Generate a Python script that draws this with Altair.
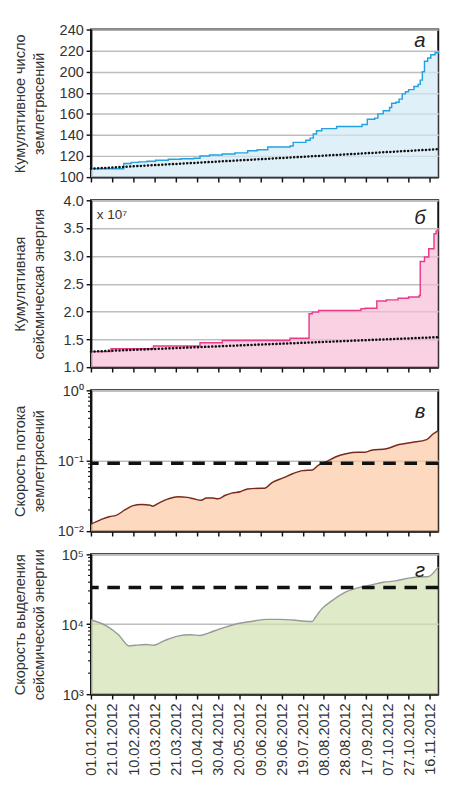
import altair as alt
import pandas as pd

FONT = "Liberation Sans"

# ---------------- data ----------------
tick_labels = ["01.01.2012", "21.01.2012", "10.02.2012", "01.03.2012", "21.03.2012",
               "10.04.2012", "30.04.2012", "20.05.2012", "09.06.2012", "29.06.2012",
               "19.07.2012", "08.08.2012", "28.08.2012", "17.09.2012", "07.10.2012",
               "27.10.2012", "16.11.2012"]
tick_days = [0, 20, 40, 60, 80, 100, 120, 140, 160, 180, 200, 220, 240, 260, 280, 300, 320]
x_domain = [0, 328]  # days since 01.01.2012

# (а) cumulative number of earthquakes
a_days = [0, 31, 38, 45, 53, 61, 73, 85, 97, 103, 112, 124, 136, 148, 157, 167, 188, 191,
          203, 207, 210, 213, 218, 232, 252, 256, 261, 268, 271, 276, 282, 284, 288, 291,
          294, 297, 300, 305, 309, 311, 313, 315, 318, 321, 325, 328]
a_vals = [108, 113, 114, 114.5, 115, 116, 117, 117.5, 118, 120, 121, 122, 123, 125, 126,
          128.5, 129.5, 133, 135, 137, 141, 144, 146, 148, 148, 150, 155, 156, 160, 163,
          166, 170, 171, 174, 179, 181, 183, 186, 188, 192, 200, 210, 213, 216, 218, 219]
a_trend_days = [0, 328]
a_trend_vals = [108, 126.5]
a_ticks = [100, 120, 140, 160, 180, 200, 220, 240]

# (б) cumulative seismic energy, x 10^7
b_days = [0, 19, 59, 103, 124, 188, 206, 209, 215, 250, 255, 259, 270, 279, 290, 300,
          310, 311, 315, 319, 324, 326, 328]
b_vals = [1.28, 1.33, 1.38, 1.44, 1.48, 1.52, 1.96, 1.99, 2.02, 2.02, 2.05, 2.06, 2.19,
          2.21, 2.24, 2.26, 2.29, 2.90, 2.98, 3.13, 3.40, 3.45, 3.48]
b_trend_days = [0, 328]
b_trend_vals = [1.28, 1.54]
b_ticks = [1.0, 1.5, 2.0, 2.5, 3.0, 3.5, 4.0]

# (в) earthquake flow rate
c_days = [0, 9, 18, 23, 32, 39, 48, 56, 58, 64, 73, 82, 91, 97, 104, 109, 115, 120, 127,
          133, 141, 148, 161, 164, 171, 182, 191, 200, 209, 215, 223, 232, 241, 252, 259,
          265, 279, 291, 303, 317, 323, 328]
c_vals = [0.0126, 0.0145, 0.0162, 0.0166, 0.0200, 0.0229, 0.0240, 0.0234, 0.0226, 0.0251,
          0.0288, 0.0309, 0.0302, 0.0288, 0.0275, 0.0295, 0.0295, 0.0288, 0.0324, 0.0347,
          0.0363, 0.0398, 0.0407, 0.0407, 0.0490, 0.0575, 0.0660, 0.0724, 0.0741, 0.0870,
          0.0977, 0.115, 0.126, 0.132, 0.132, 0.141, 0.148, 0.170, 0.182, 0.200, 0.240, 0.269]
c_threshold = 0.092
c_ticks = [0.01, 0.1, 1]
c_tick_labels = ["10⁻²", "10⁻¹", "10⁰"]
c_minor = [0.02, 0.03, 0.04, 0.05, 0.06, 0.07, 0.08, 0.09,
           0.2, 0.3, 0.4, 0.5, 0.6, 0.7, 0.8, 0.9]

# (г) seismic energy release rate
d_days = [0, 15, 26, 36, 42, 52, 59, 70, 82, 94, 103, 112, 121, 127, 139, 151, 167, 179,
          191, 206, 209, 212, 218, 227, 239, 252, 264, 276, 288, 300, 315, 318, 328]
d_vals = [11500, 9440, 7080, 4900, 5010, 5130, 5010, 5890, 6760, 7080, 6920, 7590, 8510,
          9120, 10230, 10960, 11750, 11750, 11480, 10960, 10960, 12590, 16600, 21380,
          28180, 33110, 36310, 39810, 41690, 45710, 47860, 47860, 66070]
d_threshold = 33600
d_ticks = [1000, 10000, 100000]
d_tick_labels = ["10³", "10⁴", "10⁵"]
d_minor = [2000, 3000, 4000, 5000, 6000, 7000, 8000, 9000,
           20000, 30000, 40000, 50000, 60000, 70000, 80000, 90000]

titles = {
    "a": ["Кумулятивное число", "землетрясений"],
    "b": ["Кумулятивная", "сейсмическая энергия"],
    "c": ["Скорость потока", "землетрясений"],
    "d": ["Скорость выделения", "сейсмической энергии"],
}
panel_letters = {"a": "а", "b": "б", "c": "в", "d": "г"}

# ---------------- style ----------------
W = 360
H = {"a": 153, "b": 173, "c": 146, "d": 145}
GRID = "#bdbdbd"
INK = "#111111"
TXT = "#333333"

x_scale = alt.Scale(domain=x_domain, nice=False, zero=False)
label_expr = "[" + ",".join(f"'{t}'" for t in tick_labels) + "][round(datum.value/20)]"


def x_enc(show_labels):
    if show_labels:
        axis = alt.Axis(values=tick_days, tickCount=len(tick_days), labelExpr=label_expr,
                        labelAngle=270, labelAlign="right", labelBaseline="middle",
                        labelPadding=4, labelFontSize=15, labelOverlap=False,
                        grid=False, title=None)
    else:
        axis = alt.Axis(values=tick_days, tickCount=len(tick_days), labels=False,
                        grid=False, title=None)
    return alt.X("day:Q", scale=x_scale, axis=axis)


def y_axis(key, values, label_expr_y=None):
    kw = dict(values=values, tickCount=len(values), title=titles[key], titleX=-66,
              titleY=H[key] / 2, titleLineHeight=20, titleBaseline="bottom", grid=True,
              gridColor=GRID, gridWidth=1.5, labelPadding=3,
              labelOverlap=False, labelFlush=False)
    if label_expr_y:
        kw["labelExpr"] = label_expr_y
    return alt.Axis(**kw)


def letter(key, dx, dy):
    return alt.Chart(pd.DataFrame({"t": [panel_letters[key]]})).mark_text(
        font=FONT, fontSize=21, fontStyle="italic", color="#222222",
        align="center", baseline="middle"
    ).encode(text="t:N", x=alt.value(dx), y=alt.value(dy))


def minor_ticks(vals):
    return alt.Chart(pd.DataFrame({"v": vals})).mark_rule(
        color=INK, strokeWidth=1.2
    ).encode(y="v:Q", x=alt.value(-3), x2=alt.value(0))


# ---- panel а ----
df_a = pd.DataFrame({"day": a_days, "v": a_vals})
df_at = pd.DataFrame({"day": a_trend_days, "v": a_trend_vals})
ya_scale = alt.Scale(domain=[100, 240], nice=False, zero=False)
pa = alt.layer(
    alt.Chart(df_a).mark_area(color="#d3e9f6", interpolate="step-after",
                              line={"color": "#22a2e0", "strokeWidth": 1.5}).encode(
        x=x_enc(False),
        y=alt.Y("v:Q", scale=ya_scale, axis=y_axis("a", a_ticks)),
        y2=alt.datum(100)),
    alt.Chart(df_at).mark_line(color=INK, strokeWidth=2.6, strokeDash=[0.1, 3.6],
                               strokeCap="round").encode(x="day:Q", y="v:Q"),
    letter("a", 341, 12),
).properties(width=W, height=H["a"])

# ---- panel б ----
df_b = pd.DataFrame({"day": b_days, "v": b_vals})
df_bt = pd.DataFrame({"day": b_trend_days, "v": b_trend_vals})
yb_scale = alt.Scale(domain=[1.0, 4.0], nice=False, zero=False)
pb = alt.layer(
    alt.Chart(df_b).mark_area(color="#f8bdd7", interpolate="step-after",
                              line={"color": "#ea3a8c", "strokeWidth": 1.5}).encode(
        x=x_enc(False),
        y=alt.Y("v:Q", scale=yb_scale,
                axis=y_axis("b", b_ticks, "format(datum.value, '.1f')")),
        y2=alt.datum(1.0)),
    alt.Chart(df_bt).mark_line(color=INK, strokeWidth=2.6, strokeDash=[0.1, 3.6],
                               strokeCap="round").encode(x="day:Q", y="v:Q"),
    alt.Chart(pd.DataFrame({"t": ["x 10⁷"]})).mark_text(
        font=FONT, fontSize=14, color=TXT, align="left", baseline="middle"
    ).encode(text="t:N", x=alt.value(6), y=alt.value(15)),
    letter("b", 341, 19),
).properties(width=W, height=H["b"])

# ---- panel в ----
df_c = pd.DataFrame({"day": c_days, "v": c_vals})
yc_scale = alt.Scale(type="log", domain=[0.01, 1], nice=False)
c_lab = ("datum.value < 0.05 ? '%s' : datum.value < 0.5 ? '%s' : '%s'"
         % tuple(c_tick_labels))
pc = alt.layer(
    alt.Chart(df_c).mark_area(color="#fcc9a4", interpolate="monotone",
                              line={"color": "#7a2a1c", "strokeWidth": 1.5}).encode(
        x=x_enc(False),
        y=alt.Y("v:Q", scale=yc_scale, axis=y_axis("c", c_ticks, c_lab)),
        y2=alt.datum(0.01)),
    alt.Chart(pd.DataFrame({"v": [c_threshold]})).mark_rule(
        color=INK, strokeWidth=3.5, strokeDash=[13, 9]).encode(y="v:Q"),
    minor_ticks(c_minor),
    letter("c", 341, 23),
).properties(width=W, height=H["c"])

# ---- panel г ----
df_d = pd.DataFrame({"day": d_days, "v": d_vals})
yd_scale = alt.Scale(type="log", domain=[1000, 100000], nice=False)
d_lab = ("datum.value < 5000 ? '%s' : datum.value < 50000 ? '%s' : '%s'"
         % tuple(d_tick_labels))
pd_ = alt.layer(
    alt.Chart(df_d).mark_area(color="#d2e3b0", interpolate="monotone",
                              line={"color": "#999999", "strokeWidth": 1.5}).encode(
        x=x_enc(True),
        y=alt.Y("v:Q", scale=yd_scale, axis=y_axis("d", d_ticks, d_lab)),
        y2=alt.datum(1000)),
    alt.Chart(pd.DataFrame({"v": [d_threshold]})).mark_rule(
        color=INK, strokeWidth=3.5, strokeDash=[13, 9]).encode(y="v:Q"),
    minor_ticks(d_minor),
    letter("d", 341, 18),
).properties(width=W, height=H["d"])

chart = alt.vconcat(pa, pb, pc, pd_, spacing=24, bounds="flush").properties(
    padding={"left": 3, "top": 0, "right": 0, "bottom": 0}
).configure_view(
    stroke=INK, strokeWidth=2
).configure_axis(
    labelFont=FONT, titleFont=FONT, labelFontSize=15, titleFontSize=15,
    labelColor=TXT, titleColor=TXT, titleFontWeight="normal",
    domainColor=INK, domainWidth=2, tickColor=INK, tickWidth=1.5, tickSize=5,
)

chart.save("out.html", embed_options={"renderer": "svg", "actions": False})
